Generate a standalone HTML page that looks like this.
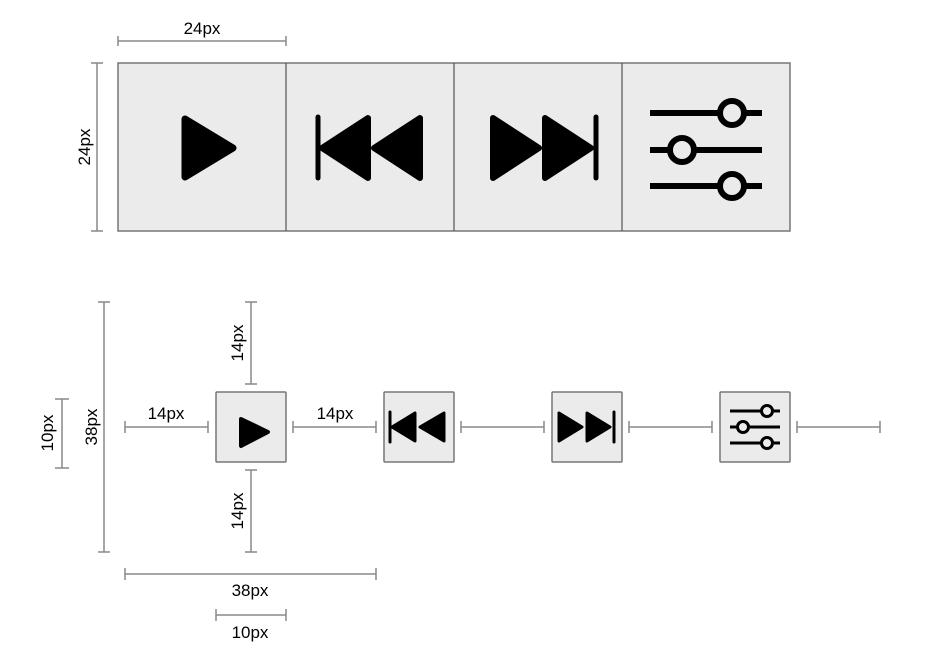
<!DOCTYPE html>
<html><head><style>body{margin:0;background:#fff}svg{display:block}text{font-family:"Liberation Sans",sans-serif;font-size:17px;fill:#000}</style></head><body>
<svg width="937" height="666" viewBox="0 0 937 666">
<g fill="#ebebeb" stroke="#777" stroke-width="1.5">
<rect x="118" y="63" width="672" height="168"/>
<rect x="216" y="392" width="70" height="70" rx="1"/><rect x="384" y="392" width="70" height="70" rx="1"/><rect x="552" y="392" width="70" height="70" rx="1"/><rect x="720" y="392" width="70" height="70" rx="1"/>
</g>
<g stroke="#555" stroke-width="1.2"><line x1="286" y1="63" x2="286" y2="231"/><line x1="454" y1="63" x2="454" y2="231"/><line x1="622" y1="63" x2="622" y2="231"/></g>
<g fill="#000" stroke="#000" stroke-linejoin="round" stroke-linecap="round">
<polygon stroke-width="7" points="185,119 233,148 185,177"/>
<line x1="318" y1="117" x2="318" y2="178" stroke-width="5"/>
<polygon stroke-width="6" points="322,148 368,118 368,178"/><polygon stroke-width="6" points="374,148 420,118 420,178"/>
<polygon stroke-width="6" points="493,118 539,148 493,178"/><polygon stroke-width="6" points="545,118 591,148 545,178"/>
<line x1="596" y1="117" x2="596" y2="178" stroke-width="5"/>
<polygon stroke-width="4" points="241,419 268,432 241,446"/>
<line x1="390" y1="412" x2="390" y2="442" stroke-width="3"/>
<polygon stroke-width="3" points="392,427 415,413 415,441"/><polygon stroke-width="3" points="420,427 444,413 444,441"/>
<polygon stroke-width="3" points="559,413 582,427 559,441"/><polygon stroke-width="3" points="587,413 610,427 587,441"/>
<line x1="614" y1="412" x2="614" y2="442" stroke-width="3"/>
</g>
<g stroke="#000" fill="#ebebeb" stroke-width="6">
<line x1="650" y1="113" x2="762" y2="113"/><line x1="650" y1="150" x2="762" y2="150"/><line x1="650" y1="186" x2="762" y2="186"/>
<circle cx="732" cy="113" r="12"/><circle cx="682" cy="150" r="12"/><circle cx="732" cy="186" r="12"/>
</g>
<g stroke="#000" fill="#ebebeb" stroke-width="3">
<line x1="730" y1="411" x2="780" y2="411"/><line x1="730" y1="427" x2="780" y2="427"/><line x1="730" y1="443" x2="780" y2="443"/>
<circle cx="767" cy="411" r="5.5"/><circle cx="743" cy="427" r="5.5"/><circle cx="767" cy="443" r="5.5"/>
</g>
<g stroke="#888" stroke-width="1.5">
<line x1="118" y1="41" x2="286" y2="41"/><line x1="118" y1="36" x2="118" y2="46"/><line x1="286" y1="36" x2="286" y2="46"/>
<line x1="97" y1="63" x2="97" y2="231"/><line x1="91" y1="63" x2="103" y2="63"/><line x1="91" y1="231" x2="103" y2="231"/>
<g id="h"><line x1="125" y1="427" x2="208" y2="427"/><line x1="125" y1="421" x2="125" y2="433"/><line x1="208" y1="421" x2="208" y2="433"/></g>
<use href="#h" x="168"/><use href="#h" x="336"/><use href="#h" x="504"/><use href="#h" x="672"/>
<line x1="251" y1="302" x2="251" y2="384"/><line x1="245" y1="302" x2="257" y2="302"/><line x1="245" y1="384" x2="257" y2="384"/>
<line x1="251" y1="470" x2="251" y2="552"/><line x1="245" y1="470" x2="257" y2="470"/><line x1="245" y1="552" x2="257" y2="552"/>
<line x1="104" y1="302" x2="104" y2="552"/><line x1="98" y1="302" x2="110" y2="302"/><line x1="98" y1="552" x2="110" y2="552"/>
<line x1="62" y1="399" x2="62" y2="468"/><line x1="55" y1="399" x2="69" y2="399"/><line x1="55" y1="468" x2="69" y2="468"/>
<line x1="125" y1="574" x2="376" y2="574"/><line x1="125" y1="568" x2="125" y2="580"/><line x1="376" y1="568" x2="376" y2="580"/>
<line x1="216" y1="615" x2="286" y2="615"/><line x1="216" y1="609" x2="216" y2="621"/><line x1="286" y1="609" x2="286" y2="621"/>
</g>
<g text-anchor="middle">
<text x="202" y="34">24px</text>
<text x="166" y="419">14px</text><text x="335" y="419">14px</text>
<text x="250" y="596">38px</text><text x="250" y="638">10px</text>
<text transform="translate(90,147) rotate(-90)">24px</text>
<text transform="translate(243,343) rotate(-90)">14px</text>
<text transform="translate(243,511) rotate(-90)">14px</text>
<text transform="translate(97,427) rotate(-90)">38px</text>
<text transform="translate(53,433) rotate(-90)">10px</text>
</g>
</svg>
</body></html>
